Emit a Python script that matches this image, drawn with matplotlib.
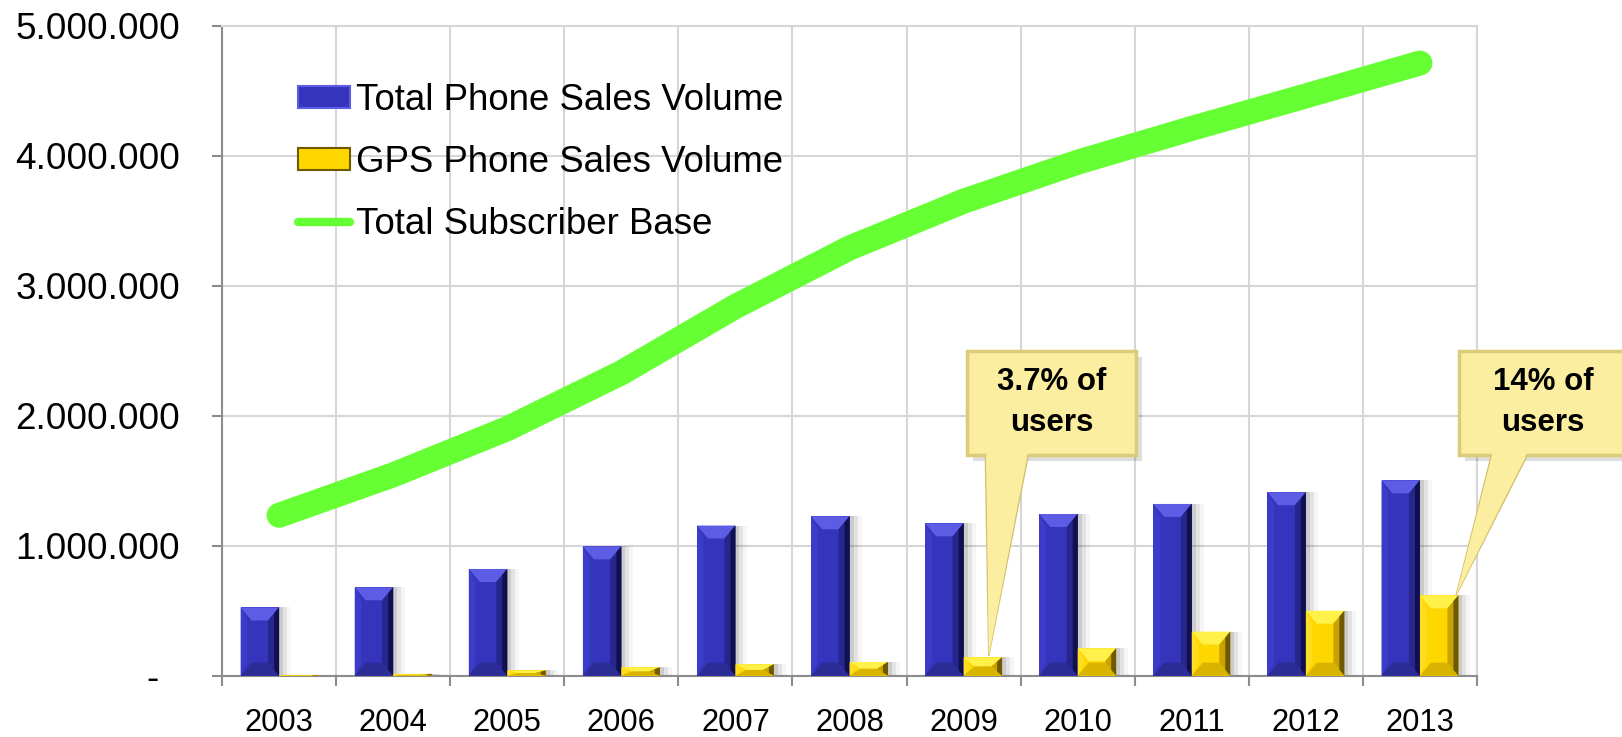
import matplotlib

matplotlib.use("Agg")
import matplotlib.pyplot as plt
from matplotlib.patches import Patch, Polygon, Rectangle
from matplotlib.lines import Line2D

plt.rcParams["font.family"] = ["Liberation Sans", "DejaVu Sans"]

years = ["2003", "2004", "2005", "2006", "2007", "2008", "2009", "2010", "2011", "2012", "2013"]
total_sales = [525000, 680000, 821000, 995000, 1155000, 1226000, 1172000, 1244000, 1321000, 1411000, 1503000]
gps_sales = [5000, 14000, 40000, 65000, 88000, 106000, 141000, 211000, 339000, 500000, 618000]
subscribers = [1234000, 1545000, 1900000, 2330000, 2840000, 3290000, 3650000, 3950000, 4210000, 4460000, 4713000]
callout_text = ["3.7% of\nusers", "14% of\nusers"]
callout_year = [6, 10]

BLUE = dict(main="#3434bc", top="#5c5ce4", right="#26268c", edge="#10104e", bottom="#2c2c96", left="#3c3cca")
GOLD = dict(main="#ffd700", top="#fff04a", right="#c9a400", edge="#6e5800", bottom="#d8b400", left="#ffdd22")
GREEN = "#66ff33"
GRID = "#d6d6d6"
AXIS = "#8c8c8c"
NOTE = "#fbeea0"

fig = plt.figure(figsize=(16.22, 7.37), dpi=100)
ax = fig.add_axes([0.1369, 0.0832, 0.7737, 0.8819])
ax.set_xlim(0, len(years))
ax.set_ylim(0, 5e6)

# size of one pixel in data units
px_x = len(years) / (0.7737 * 1622)
px_y = 5e6 / (0.8819 * 737)


def bevel_bar(x0, w, h, pal):
    x1 = x0 + w
    # soft shadow on the right
    for k, a in enumerate([0.10, 0.07, 0.04]):
        d = (k + 1) * 4 * px_x
        ax.add_patch(Rectangle((x0 + d, 0), w, max(h - d * 0.3, 0), color="k",
                               alpha=a, lw=0, zorder=2))
    ax.add_patch(Rectangle((x0, 0), w, h, color=pal["main"], lw=0, zorder=3))
    bx = min(11 * px_x, w / 2)
    by = min(13 * px_y, h / 2)
    ax.add_patch(Polygon([(x0, h), (x1, h), (x1 - bx, h - by), (x0 + bx, h - by)],
                         color=pal["top"], lw=0, zorder=4))
    ax.add_patch(Polygon([(x0, 0), (x1, 0), (x1 - bx, by), (x0 + bx, by)],
                         color=pal["bottom"], lw=0, zorder=4))
    ax.add_patch(Polygon([(x1, h), (x1, 0), (x1 - bx, by), (x1 - bx, h - by)],
                         color=pal["right"], lw=0, zorder=4))
    ax.add_patch(Polygon([(x1, h), (x1, 0), (x1 - bx * 0.45, by * 0.45), (x1 - bx * 0.45, h - by * 0.45)],
                         color=pal["edge"], lw=0, zorder=4))
    ax.add_patch(Polygon([(x0, h), (x0, 0), (x0 + bx * 0.6, by), (x0 + bx * 0.6, h - by)],
                         color=pal["left"], lw=0, zorder=4))


bw = 0.337
for i in range(len(years)):
    bevel_bar(i + 0.5 - bw, bw, total_sales[i], BLUE)
    bevel_bar(i + 0.5, bw, gps_sales[i], GOLD)

centers = [i + 0.5 for i in range(len(years))]
ax.plot(centers, subscribers, color=GREEN, lw=18, solid_capstyle="round",
        solid_joinstyle="round", zorder=5)

# grid / axes
ax.set_yticks(range(0, 5000001, 1000000))
ax.set_yticklabels(["-  " if v == 0 else f"{v:,}".replace(",", ".")
                    for v in range(0, 5000001, 1000000)])
ax.set_xticks(range(len(years) + 1))
ax.set_xticklabels([])
ax.set_xticks(centers, minor=True)
ax.set_xticklabels(years, minor=True)
ax.tick_params(axis="y", length=7.2, width=1.5, color=AXIS, pad=23, labelsize=26.6)
ax.tick_params(axis="x", which="major", length=7.2, width=1.5, color=AXIS)
ax.tick_params(axis="x", which="minor", length=0, pad=23, labelsize=22.2)
ax.grid(True, which="major", color=GRID, lw=1.5, zorder=0)
ax.set_axisbelow(True)
for s in ["left", "bottom"]:
    ax.spines[s].set_color(AXIS)
    ax.spines[s].set_linewidth(1.5)
for s in ["top", "right"]:
    ax.spines[s].set_color(GRID)
    ax.spines[s].set_linewidth(1.5)

# callouts: box left edge, tail base (data x)
box_left = [6.53, 10.84]
tail_base = [(6.69, 7.07), (11.13, 11.45)]
box_w = 169 * px_x
box_y0, box_h = 1.70e6, 0.80e6
for text, idx, bx0, (bl, br) in zip(callout_text, callout_year, box_left, tail_base):
    if idx == len(years) - 1:
        tip = (idx + 0.5 + bw - 0.02, gps_sales[idx])
    else:
        tip = (idx + 0.5 + 0.22, gps_sales[idx] + 0.01e6)
    ax.add_patch(Rectangle((bx0 + 6 * px_x, box_y0 - 6 * px_y), box_w, box_h, color="k",
                           alpha=0.13, lw=0, zorder=6, clip_on=False))
    ax.add_patch(Polygon([(bl, box_y0 + 1e4), tip, (br, box_y0 + 1e4)],
                         facecolor=NOTE, edgecolor="#d3c170", lw=1, zorder=7, clip_on=False))
    ax.add_patch(Rectangle((bx0, box_y0), box_w, box_h, facecolor=NOTE,
                           edgecolor="#dccb78", lw=2.5, zorder=7, clip_on=False))
    ax.add_patch(Polygon([(bl + 0.01, box_y0 + 2e4), tip, (br - 0.01, box_y0 + 2e4)],
                         color=NOTE, lw=0, zorder=8, clip_on=False))
    ax.text(bx0 + box_w / 2, box_y0 + box_h / 2, text, ha="center", va="center",
            fontsize=22.5, fontweight="bold", linespacing=1.5, zorder=9, clip_on=False)

handles = [
    Patch(facecolor=BLUE["main"], edgecolor=BLUE["top"], lw=1.5, label="Total Phone Sales Volume"),
    Patch(facecolor=GOLD["main"], edgecolor=GOLD["edge"], lw=1.5, label="GPS Phone Sales Volume"),
    Line2D([], [], color=GREEN, lw=6, solid_capstyle="round", label="Total Subscriber Base"),
]
ax.legend(handles=handles, loc="upper left", bbox_to_anchor=(298 / 1622, 1 - 83 / 737),
          bbox_transform=fig.transFigure, frameon=False, fontsize=26.4, borderpad=0,
          borderaxespad=0, handlelength=1.43, handleheight=0.55, handletextpad=0.14,
          labelspacing=0.73)

fig.savefig("out.png", dpi=100)
